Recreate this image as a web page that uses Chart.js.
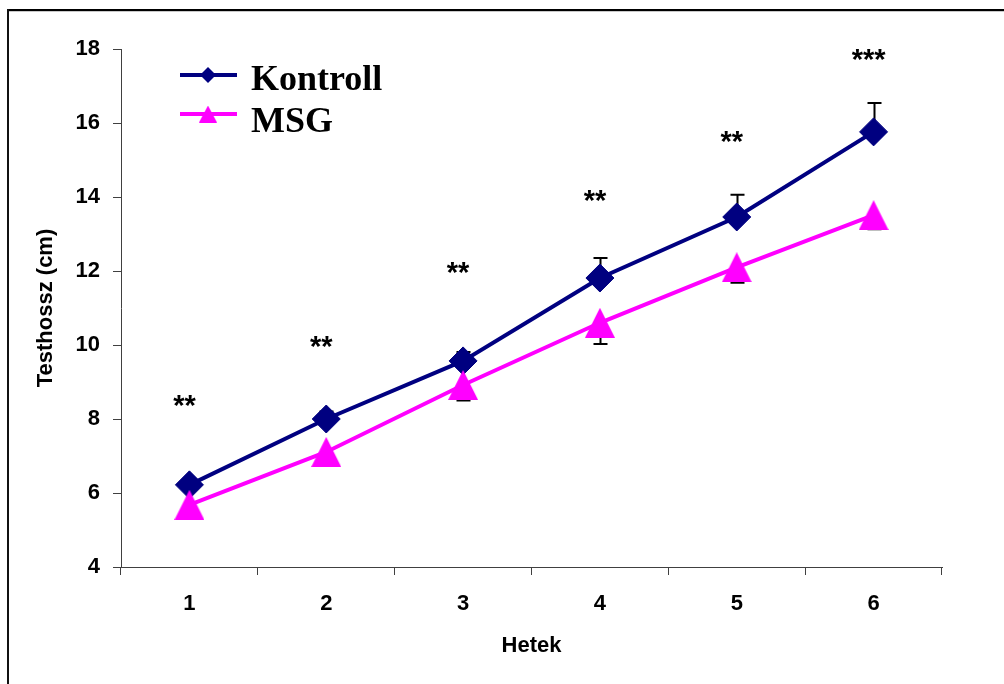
<!DOCTYPE html>
<html>
<head>
<meta charset="utf-8">
<script src="https://cdn.jsdelivr.net/npm/chart.js@4/dist/chart.umd.min.js"></script>
<style>
  html, body { margin: 0; padding: 0; background: #fff; }
  canvas { display: block; }
</style>
</head>
<body>
<canvas id="chart" width="1004" height="684"></canvas>
<script>
// Body length (cm) by week, mean and SD
const weeks = ['1', '2', '3', '4', '5', '6'];
const kontroll = [6.22, 8.00, 9.57, 11.81, 13.46, 15.76];
const kontrollSD = [0.15, 0.20, 0.24, 0.54, 0.60, 0.78];
const msg = [5.68, 7.11, 8.92, 10.60, 12.10, 13.51];
const msgSD = [0.20, 0.37, 0.42, 0.57, 0.42, 0.38];
// Significance marks and the height (cm) they sit at
const significance = ['**', '**', '**', '**', '**', '***'];
const significanceLevel = [8.49, 10.08, 12.08, 14.03, 15.62, 17.84];
const yMin = 4, yMax = 18, yStep = 2;

const SANS = "'Liberation Sans', Arial, sans-serif";
const SERIF = "'Liberation Serif', 'Times New Roman', serif";
const NAVY = '#000080';
const MAGENTA = '#FF00FF';
const AXIS = '#404040';

function triangleImage(w, h, color) {
  const c = document.createElement('canvas');
  c.width = w; c.height = h;
  const g = c.getContext('2d');
  g.fillStyle = color;
  g.beginPath();
  g.moveTo(w / 2, 0);
  g.lineTo(w, h);
  g.lineTo(0, h);
  g.closePath();
  g.fill();
  return c;
}

const msgTriangle = triangleImage(30, 30, MAGENTA);
const legendTriangle = triangleImage(18, 17, MAGENTA);

// Page frame (top and left rules)
const framePlugin = {
  id: 'frame',
  beforeDraw(chart) {
    const ctx = chart.ctx;
    ctx.save();
    ctx.fillStyle = '#fff';
    ctx.fillRect(0, 0, chart.width, chart.height);
    ctx.fillStyle = '#000';
    ctx.fillRect(7, 9, chart.width - 7, 2);
    ctx.fillStyle = '#c8c8c8';
    ctx.fillRect(9, 11, chart.width - 9, 1);
    ctx.fillStyle = '#111';
    ctx.fillRect(7, 9, 2, chart.height - 9);
    ctx.restore();
  }
};

// One-sided SD bars: up for Kontroll, down for MSG
const errorBarPlugin = {
  id: 'errorBars',
  beforeDatasetsDraw(chart) {
    const { ctx, scales: { y } } = chart;
    ctx.save();
    ctx.strokeStyle = '#000';
    ctx.lineWidth = 2;
    chart.data.datasets.forEach((ds, i) => {
      const meta = chart.getDatasetMeta(i);
      meta.data.forEach((pt, j) => {
        const v = ds.data[j];
        const end = y.getPixelForValue(v + ds.errorDir * ds.errors[j]);
        const x = Math.round(pt.x) + 0.5;
        ctx.beginPath();
        ctx.moveTo(x, pt.y);
        ctx.lineTo(x, end);
        ctx.moveTo(x - 7, end);
        ctx.lineTo(x + 7, end);
        ctx.stroke();
      });
    });
    ctx.restore();
  }
};

// Significance asterisks above each week
const significancePlugin = {
  id: 'significance',
  afterDatasetsDraw(chart) {
    const { ctx, scales: { x, y } } = chart;
    ctx.save();
    ctx.fillStyle = '#000';
    ctx.font = 'bold 29px ' + SANS;
    ctx.textAlign = 'center';
    ctx.textBaseline = 'alphabetic';
    significance.forEach((s, j) => {
      const px = x.getPixelForValue(j) - 5;
      const py = y.getPixelForValue(significanceLevel[j]) + 14;
      ctx.fillText(s, px, py);
    });
    ctx.restore();
  }
};

// Legend in the upper-left of the plot area
const legendPlugin = {
  id: 'insetLegend',
  afterDraw(chart) {
    const ctx = chart.ctx;
    const rows = [
      { ds: chart.data.datasets[0], y: 75, base: 90 },
      { ds: chart.data.datasets[1], y: 114, base: 132 }
    ];
    ctx.save();
    rows.forEach((r, i) => {
      ctx.strokeStyle = r.ds.borderColor;
      ctx.lineWidth = 4;
      ctx.beginPath();
      ctx.moveTo(180, r.y);
      ctx.lineTo(237, r.y);
      ctx.stroke();
      if (i === 0) {
        ctx.fillStyle = r.ds.borderColor;
        Chart.helpers.drawPoint(ctx, { pointStyle: 'rectRot', radius: 8, rotation: 0, borderWidth: 0 }, 208, r.y);
      } else {
        ctx.drawImage(legendTriangle, 208 - legendTriangle.width / 2, r.y - legendTriangle.height / 2);
      }
      ctx.fillStyle = '#000';
      ctx.font = 'bold 36px ' + SERIF;
      ctx.textAlign = 'left';
      ctx.textBaseline = 'alphabetic';
      ctx.fillText(r.ds.label, 251, r.base);
    });
    ctx.restore();
  }
};

const tickFont = { family: SANS, size: 22, weight: 'bold' };

new Chart(document.getElementById('chart'), {
  type: 'line',
  data: {
    labels: weeks,
    datasets: [
      {
        label: 'Kontroll',
        data: kontroll,
        errors: kontrollSD,
        errorDir: 1,
        order: 1,
        borderColor: NAVY,
        backgroundColor: NAVY,
        borderWidth: 4,
        tension: 0,
        pointStyle: 'rectRot',
        pointRadius: 14,
        pointBorderWidth: 1,
        pointBackgroundColor: NAVY,
        pointBorderColor: NAVY,
        clip: false
      },
      {
        label: 'MSG',
        data: msg,
        errors: msgSD,
        errorDir: -1,
        order: 0,
        borderColor: MAGENTA,
        backgroundColor: MAGENTA,
        borderWidth: 4,
        tension: 0,
        pointStyle: msgTriangle,
        pointRadius: 15,
        clip: false
      }
    ]
  },
  options: {
    responsive: false,
    animation: false,
    devicePixelRatio: 1,
    layout: { padding: { left: 0, top: 49, right: 62, bottom: 0 } },
    plugins: { legend: { display: false }, tooltip: { enabled: false } },
    scales: {
      x: {
        type: 'category',
        offset: true,
        grid: { offset: true, drawOnChartArea: false, drawTicks: true, tickLength: 8, color: AXIS, lineWidth: 1 },
        border: { display: true, color: AXIS, width: 1 },
        ticks: { color: '#000', font: tickFont, padding: 16, maxRotation: 0 },
        title: { display: true, text: 'Hetek', color: '#000', font: tickFont, padding: { top: 0, bottom: 25 } },
        afterFit(scale) { scale.height = 117; }
      },
      y: {
        min: yMin,
        max: yMax,
        grid: { drawOnChartArea: false, drawTicks: true, tickLength: 8, color: AXIS, lineWidth: 1 },
        border: { display: true, color: AXIS, width: 1 },
        ticks: { stepSize: yStep, color: '#000', font: tickFont, padding: 13 },
        title: { display: true, text: 'Testhossz (cm)', color: '#000', font: tickFont, padding: { top: 33, bottom: 0 } },
        afterFit(scale) { scale.width = 121; }
      }
    }
  },
  plugins: [framePlugin, errorBarPlugin, significancePlugin, legendPlugin]
});
</script>
</body>
</html>
